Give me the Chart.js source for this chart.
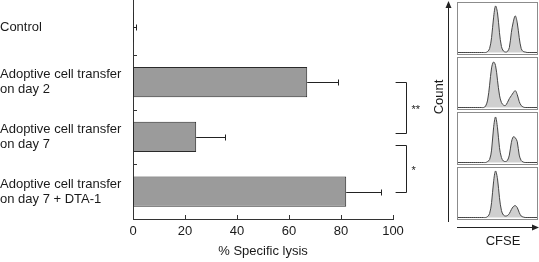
<!DOCTYPE html>
<html>
<head>
<meta charset="utf-8">
<script src="https://cdn.jsdelivr.net/npm/chart.js@4.4.1/dist/chart.umd.min.js"></script>
<style>
  body { margin: 0; background: #fff; font-family: "Liberation Sans", Arial, sans-serif; color: #1a1a1a; }
  #wrap { position: relative; width: 539px; height: 262px; overflow: hidden; }
  #lysis { position: absolute; left: 0; top: 0; }
  .box { position: absolute; left: 457px; width: 81px; height: 53px; box-sizing: border-box; border: 1px solid #8c8c8c; }
  .box canvas { display: block; }
  .lbl { position: absolute; font-size: 13px; white-space: nowrap; }
  #arrows { position: absolute; left: 0; top: 0; }
</style>
</head>
<body>
<div id="wrap">
  <canvas id="lysis" width="430" height="262"></canvas>
  <div class="box" style="top:2px"><canvas id="h0" width="79" height="51"></canvas></div>
  <div class="box" style="top:57px"><canvas id="h1" width="79" height="51"></canvas></div>
  <div class="box" style="top:112px"><canvas id="h2" width="79" height="51"></canvas></div>
  <div class="box" style="top:167px"><canvas id="h3" width="79" height="51"></canvas></div>
  <svg id="arrows" width="539" height="262">
    <line x1="448.5" y1="222" x2="448.5" y2="6" stroke="#222" stroke-width="1"/>
    <polygon points="448.5,1 445.5,8 451.5,8" fill="#222"/>
    <line x1="457" y1="227.5" x2="533" y2="227.5" stroke="#222" stroke-width="1"/>
    <polygon points="539,227.5 532,224.5 532,230.5" fill="#222"/>
  </svg>
  <div class="lbl" style="left:438px;top:97px;transform:translate(-50%,-50%) rotate(-90deg);">Count</div>
  <div class="lbl" style="left:503px;top:240px;transform:translate(-50%,-50%);">CFSE</div>
</div>
<script>
// bar chart data
var groups = [
  "Control",
  ["Adoptive cell transfer", "on day 2"],
  ["Adoptive cell transfer", "on day 7"],
  ["Adoptive cell transfer", "on day 7 + DTA-1"]
];
var lysis = [0.3, 67, 24.3, 82];
var lysisErr = [0.8, 11.8, 11, 13.2];
var xTicks = [0, 20, 40, 60, 80, 100];
// significance brackets: [from group, to group, label]
var sigPairs = [[1, 2, "**"], [2, 3, "*"]];

// CFSE histograms (% of panel height per bin)
var cfseBins = [];
for (var b = 0; b <= 40; b++) cfseBins.push(b);
var hist0 = [0,0,0,0,0,0,0,0,0,0,0,0,0,0,0,2,8,30,70,94,80,40,12,3,1,2,10,40,62,74,60,30,8,2,1,0,0,0,0,0,0];
var hist1 = [0,0,0,0,0,0,0,0,0,0,0,0,0,0,3,15,45,80,92,85,55,25,10,5,4,10,18,24,30,34,26,12,4,1,0,0,0,0,0,0,0];
var hist2 = [0,0,0,0,0,0,0,0,0,0,0,0,0,0,0,2,6,25,70,92,70,30,10,3,2,4,15,40,52,50,42,15,4,1,0,0,0,0,0,0,0];
var hist3 = [0,0,0,0,0,0,0,0,0,0,0,0,0,0,0,2,8,30,72,94,78,40,14,5,3,4,8,16,22,24,20,10,3,1,0,0,0,0,0,0,0];

var ink = "#1a1a1a";
var fam = "'Liberation Sans', Arial, sans-serif";

var extrasPlugin = {
  id: "extras",
  afterDatasetsDraw: function(chart) {
    var ctx = chart.ctx;
    var xs = chart.scales.x, ys = chart.scales.y;
    var area = chart.chartArea;
    ctx.save();
    ctx.strokeStyle = "#333";
    ctx.lineWidth = 1;
    // inner ticks on the y axis (between groups)
    for (var i = 0; i < groups.length - 1; i++) {
      var yb = Math.round((ys.getPixelForValue(i) + ys.getPixelForValue(i + 1)) / 2) + 0.5;
      ctx.beginPath(); ctx.moveTo(area.left, yb); ctx.lineTo(area.left + 4, yb); ctx.stroke();
    }
    // inner ticks on the x axis
    xTicks.forEach(function(t) {
      if (t === 0) return;
      var xp = Math.round(xs.getPixelForValue(t)) + 0.5;
      ctx.beginPath(); ctx.moveTo(xp, area.bottom); ctx.lineTo(xp, area.bottom - 4); ctx.stroke();
    });
    // error bars (one-sided)
    ctx.strokeStyle = "#222";
    lysis.forEach(function(v, i) {
      var y = Math.round(ys.getPixelForValue(i)) + 0.5;
      var x0 = xs.getPixelForValue(v);
      var x1 = Math.round(xs.getPixelForValue(v + lysisErr[i])) + 0.5;
      ctx.beginPath();
      ctx.moveTo(x0, y); ctx.lineTo(x1, y);
      ctx.moveTo(x1, y - 3); ctx.lineTo(x1, y + 3);
      ctx.stroke();
    });
    // significance brackets
    ctx.fillStyle = ink;
    ctx.font = "11px " + fam;
    ctx.textAlign = "left";
    ctx.textBaseline = "middle";
    sigPairs.forEach(function(p, k) {
      var yTop = ys.getPixelForValue(p[0]) + (k === 0 ? 0 : 8);
      var yBot = ys.getPixelForValue(p[1]) - (k === 0 ? 4 : 0);
      yTop = Math.round(yTop) + 0.5; yBot = Math.round(yBot) + 0.5;
      var xa = xs.getPixelForValue(101), xb = Math.round(xs.getPixelForValue(105)) + 0.5;
      ctx.beginPath();
      ctx.moveTo(xa, yTop); ctx.lineTo(xb, yTop); ctx.lineTo(xb, yBot); ctx.lineTo(xa, yBot);
      ctx.stroke();
      ctx.fillText(p[2], xb + 5, (yTop + yBot) / 2 + 2);
    });
    ctx.restore();
  }
};

new Chart(document.getElementById("lysis"), {
  type: "bar",
  data: {
    labels: groups,
    datasets: [{
      data: lysis,
      backgroundColor: "#9b9b9b",
      borderColor: "#2a2a2a",
      borderWidth: 1,
      borderSkipped: false,
      barPercentage: 0.55,
      categoryPercentage: 1
    }]
  },
  options: {
    indexAxis: "y",
    responsive: false,
    animation: false,
    layout: { padding: { left: 0, right: 37, top: 0, bottom: 0 } },
    plugins: { legend: { display: false }, tooltip: { enabled: false } },
    scales: {
      x: {
        min: 0, max: 100,
        afterBuildTicks: function(s) { s.ticks = xTicks.map(function(v) { return { value: v }; }); },
        afterFit: function(s) { s.height = 43; s.paddingLeft = 0; s.paddingRight = 0; },
        grid: { display: false, drawTicks: false, tickLength: 0 },
        border: { display: true, color: "#333", width: 1 },
        ticks: { padding: 5, color: ink, font: { size: 13, family: fam } },
        title: {
          display: true, text: "% Specific lysis", color: ink,
          padding: { top: 0, bottom: 3 },
          font: { size: 13, family: fam }
        }
      },
      y: {
        afterFit: function(s) { s.width = 133; s.paddingTop = 0; s.paddingBottom = 0; },
        grid: { display: false, drawTicks: false, tickLength: 0 },
        border: { display: true, color: "#333", width: 1 },
        ticks: {
          crossAlign: "far", padding: 0, color: ink,
          font: { size: 13, lineHeight: 1.15, family: fam }
        }
      }
    }
  },
  plugins: [extrasPlugin]
});

[hist0, hist1, hist2, hist3].forEach(function(h, i) {
  new Chart(document.getElementById("h" + i), {
    type: "line",
    data: {
      labels: cfseBins,
      datasets: [{
        data: h,
        borderColor: "#444",
        borderWidth: 1,
        backgroundColor: "#cfcfcf",
        fill: "origin",
        pointRadius: 0,
        tension: 0.35
      }]
    },
    options: {
      responsive: false,
      animation: false,
      layout: { padding: 0 },
      plugins: { legend: { display: false }, tooltip: { enabled: false } },
      scales: {
        x: { display: false },
        y: { display: false, min: -3, max: 100 }
      }
    }
  });
});
</script>
</body>
</html>
